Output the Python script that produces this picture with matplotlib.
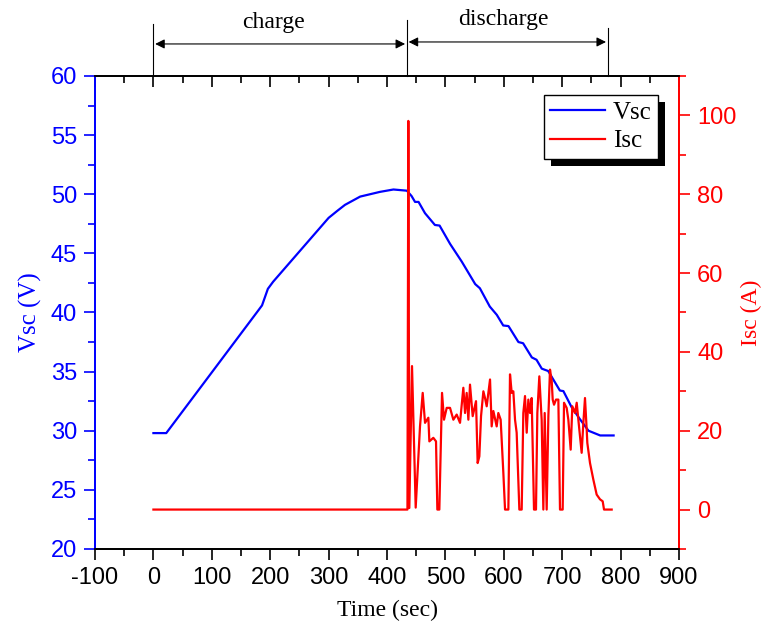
import matplotlib
matplotlib.use("Agg")
import matplotlib.pyplot as plt
from matplotlib.patches import Rectangle

# supercapacitor voltage (V) vs time (s)
t_v = [0, 22, 180, 186, 196, 205, 300, 315, 328, 354, 388, 411, 434, 442, 448, 454, 465,
       482, 490, 508, 528, 551, 559, 576, 588, 599, 608, 625, 633, 648, 656, 665,
       676, 696, 702, 716, 730, 745, 765, 788]
vsc = [29.8, 29.8, 40.2, 40.6, 42.0, 42.6, 48.0, 48.6, 49.1, 49.8, 50.2, 50.4, 50.3, 49.85,
       49.35, 49.35, 48.4, 47.4, 47.35, 45.8, 44.3, 42.4, 42.05, 40.5, 39.8, 38.9,
       38.85, 37.5, 37.4, 36.2, 36.0, 35.25, 35.05, 33.4, 33.35, 32.0, 31.0, 30.0,
       29.6, 29.6]

# supercapacitor current (A) vs time (s)
t_i = [0, 435, 436.5, 438.2, 442.8, 449.1, 456.5, 461.1, 465.1, 470.8, 472.5, 479.3,
       483.9, 486.2, 489.6, 494.2, 497.6, 502.2, 507.9, 513.6, 519.3, 525.0, 530.7,
       533.6, 536.4, 539.3, 542.1, 546.7, 552.4, 555.2, 558.1, 561.0, 565.0, 567.8,
       570.7, 576.4, 579.2, 582.1, 587.8, 590.6, 594.6, 599.2, 602.1, 607.8, 610.6,
       613.5, 616.3, 619.2, 622.0, 626.6, 630.6, 633.4, 636.3, 639.2, 642.0, 644.9,
       647.7, 651.7, 655.1, 657.4, 660.8, 664.8, 667.7, 670.0, 673.4, 676.3, 679.1,
       682.0, 683.7, 686.0, 689.4, 693.4, 696.2, 700.8, 703.1, 707.6, 710.5, 714.5,
       717.3, 721.9, 724.8, 729.3, 733.3, 736.2, 739.0, 741.9, 743.0, 747.6, 753.3,
       759.0, 764.7, 769.3, 771.6, 784.7]
isc = [0, 0, 98.6, 0.4, 36.4, 0.5, 21.1, 29.6, 22.0, 23.3, 17.3, 18.2,
       17.3, 0, 0, 29.6, 22.8, 25.8, 25.8, 22.8, 24.1, 22.0, 30.9,
       24.5, 29.6, 22.8, 31.7, 23.7, 27.5, 11.8, 13.5, 23.7, 30.0, 28.3,
       26.2, 33.0, 21.1, 25.0, 21.1, 24.5, 22.8, 9.3, 0, 0, 34.3,
       29.6, 30.0, 22.8, 19.5, 0, 0, 24.5, 28.8, 19.5, 27.9, 24.5,
       28.3, 0, 0, 24.5, 33.8, 22.8, 0, 24.5, 0, 23.7, 35.5,
       32.6, 27.9, 26.6, 27.9, 27.9, 0, 0, 27.1, 25.8, 22.8, 15.2,
       26.2, 24.5, 27.1, 20.3, 14.4, 22.0, 28.3, 20.3, 16.9, 11.8, 7.6,
       3.8, 2.6, 2.1, 0, 0]

x_ticks = [-100, 0, 100, 200, 300, 400, 500, 600, 700, 800, 900]
v_ticks = [20, 25, 30, 35, 40, 45, 50, 55, 60]
i_ticks = [0, 20, 40, 60, 80, 100]

# phase markers
t_start, t_switch, t_end = 0, 434, 778

BLUE = "#0000ff"
RED = "#ff0000"
tick_font = "Liberation Sans"
text_font = "Liberation Serif"

fig = plt.figure(figsize=(7.65, 6.3), dpi=100)
ax = fig.add_axes([0.1242, 0.1286, 0.7634, 0.7508])
ax2 = ax.twinx()
ax2.set_position(ax.get_position())

lv, = ax.plot(t_v, vsc, color=BLUE, lw=1.6, label="Vsc")
li, = ax2.plot(t_i, isc, color=RED, lw=1.6, label="Isc")

ax.set_xlim(-100, 900)
ax.set_ylim(20, 60)
ax2.set_ylim(-10, 110)

ax.set_xticks(x_ticks)
ax.set_xticks(range(-50, 900, 100), minor=True)
ax.set_yticks(v_ticks)
ax.set_yticks([22.5 + 5 * k for k in range(8)], minor=True)
ax2.set_yticks(i_ticks)
ax2.set_yticks([-10, 10, 30, 50, 70, 90, 110], minor=True)

ax.set_xticklabels([str(v) for v in x_ticks], fontsize=17, family=tick_font)
ax.set_yticklabels([str(v) for v in v_ticks], fontsize=17, family=tick_font, color=BLUE)
ax2.set_yticklabels([str(v) for v in i_ticks], fontsize=17, family=tick_font, color=RED)

ax.tick_params(axis="x", which="both", direction="out", top=True, width=1.2)
ax.tick_params(axis="x", which="major", length=8, pad=5)
ax.tick_params(axis="x", which="minor", length=5)
ax.tick_params(axis="y", which="both", direction="out", colors=BLUE, width=1.2, pad=5)
ax.tick_params(axis="y", which="major", length=8)
ax.tick_params(axis="y", which="minor", length=5)
ax2.tick_params(axis="y", which="both", direction="out", colors=RED, width=1.2, pad=5)
ax2.tick_params(axis="y", which="major", length=8)
ax2.tick_params(axis="y", which="minor", length=5)
ax2.tick_params(axis="x", which="both", top=False)

# top ticks point inward, bottom ones outward
for tk in ax.xaxis.get_major_ticks() + ax.xaxis.get_minor_ticks():
    tk.tick2line.set_marker(3)

for a in (ax, ax2):
    for s in a.spines.values():
        s.set_linewidth(1.3)
ax.spines["left"].set_color(BLUE)
ax2.spines["left"].set_color(BLUE)
ax2.spines["right"].set_color(RED)
ax.spines["right"].set_color(RED)

ax.set_xlabel("Time (sec)", fontsize=17, family=text_font, labelpad=8)
ax.set_ylabel("Vsc (V)", fontsize=18, family=text_font, color=BLUE, labelpad=6)
ax2.set_ylabel("Isc (A)", fontsize=17, family=text_font, color=RED, labelpad=3)

leg = ax2.legend(handles=[lv, li], loc="upper right", bbox_to_anchor=(0.964, 0.96),
                 borderaxespad=0, fancybox=False, framealpha=1, edgecolor="black",
                 prop={"family": text_font, "size": 18}, handlelength=2.2,
                 handletextpad=0.3, borderpad=0.25, labelspacing=0.25)
leg.get_frame().set_linewidth(1.0)

# black drop shadow behind the legend box
fig.canvas.draw()
bb = leg.get_window_extent()
shadow = Rectangle((bb.x0 + 7, bb.y0 - 7), bb.width, bb.height, transform=None,
                   facecolor="black", edgecolor="none", zorder=4.5, clip_on=False)
ax2.add_artist(shadow)

# charge / discharge markers above the plot
trans = ax.get_xaxis_transform()
ax.plot([t_start, t_start], [1.0, 1.11], color="black", lw=0.8, transform=trans, clip_on=False)
ax.plot([t_switch, t_switch], [1.0, 1.118], color="black", lw=0.8, transform=trans, clip_on=False)
ax.plot([t_end, t_end], [1.0, 1.1015], color="black", lw=0.8, transform=trans, clip_on=False)
ax.annotate("", xy=(t_switch - 3, 1.0677), xytext=(t_start + 3, 1.0677), xycoords=trans,
            textcoords=trans, arrowprops=dict(arrowstyle="<|-|>", color="black", lw=0.8,
                                              shrinkA=0, shrinkB=0, mutation_scale=14))
ax.annotate("", xy=(t_end - 3, 1.0719), xytext=(t_switch + 3, 1.0719), xycoords=trans,
            textcoords=trans, arrowprops=dict(arrowstyle="<|-|>", color="black", lw=0.8,
                                              shrinkA=0, shrinkB=0, mutation_scale=14))
ax.text(206, 1.1015, "charge", transform=trans, ha="center", va="baseline",
        fontsize=17, family=text_font)
ax.text(600, 1.1078, "discharge", transform=trans, ha="center", va="baseline",
        fontsize=17, family=text_font)

fig.savefig("out.png", dpi=100)
